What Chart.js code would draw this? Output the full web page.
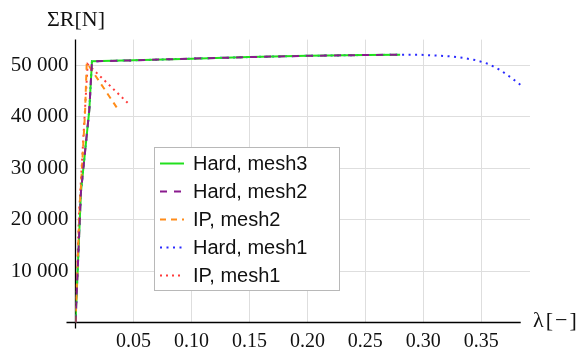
<!DOCTYPE html>
<html>
<head>
<meta charset="utf-8">
<script src="https://cdn.jsdelivr.net/npm/chart.js@4.4.1/dist/chart.umd.min.js"></script>
<style>
  html, body { margin: 0; padding: 0; background: #fff; }
  #wrap { width: 587px; height: 355px; position: relative; }
</style>
</head>
<body>
<div id="wrap"><canvas id="reactionChart"></canvas></div>
<script>
// Total reaction force vs. load factor, hard contact vs. IP, three meshes

const hardMesh3Lambda = [0, 0.0047, 0.0119, 0.0142, 0.05, 0.10, 0.15, 0.20, 0.25, 0.28];
const hardMesh3Force  = [0, 25400, 41300, 50780, 50970, 51300, 51600, 51850, 52000, 52060];

const hardMesh2Lambda = [0, 0.0047, 0.0119, 0.0142, 0.05, 0.10, 0.15, 0.20, 0.25, 0.28];
const hardMesh2Force  = [0, 25400, 41300, 50780, 50970, 51300, 51600, 51850, 52000, 52060];

const ipMesh2Lambda = [0, 0.0033, 0.0082, 0.0097, 0.0355];
const ipMesh2Force  = [0, 20900, 40700, 50500, 41830];

const hardMesh1Lambda = [0, 0.0047, 0.0119, 0.0142, 0.05, 0.10, 0.15, 0.20, 0.25, 0.28,
                         0.2964, 0.3128, 0.324, 0.335, 0.3458, 0.3565, 0.3662, 0.3754, 0.3843];
const hardMesh1Force  = [0, 25400, 41300, 50780, 50970, 51300, 51600, 51850, 52000, 52060,
                         52060, 51870, 51750, 51420, 50970, 50250, 49090, 47660, 46100];

const ipMesh1Lambda = [0, 0.003, 0.008, 0.0105, 0.0464];
const ipMesh1Force  = [0, 20900, 40700, 50200, 42400];

const xTicks = [0.05, 0.10, 0.15, 0.20, 0.25, 0.30, 0.35];
const yTicks = [10000, 20000, 30000, 40000, 50000];

const seriesNames = ['Hard, mesh3', 'Hard, mesh2', 'IP, mesh2', 'Hard, mesh1', 'IP, mesh1'];

const toPoints = (xs, ys) => xs.map((x, i) => ({ x: x, y: ys[i] }));

const styles = [
  { color: '#22e01e', dash: [] },
  { color: '#8a1a8e', dash: [7, 7] },
  { color: '#ff8c1a', dash: [6, 5] },
  { color: '#2a2aff', dash: [2, 4.5] },
  { color: '#ff3c3c', dash: [2, 4] }
];

const serif = '"Liberation Serif", "Times New Roman", serif';
const sans = '"Liberation Sans", Arial, sans-serif';

function fmtThousands(v) {
  return String(v).replace(/\B(?=(\d{3})+(?!\d))/g, ' ');
}

// axes crossing at the origin, axis titles and the framed legend
const decorPlugin = {
  id: 'decor',
  beforeDatasetsDraw(chart) {
    const { ctx, scales: { x, y } } = chart;
    const x0 = x.getPixelForValue(0);
    const y0 = y.getPixelForValue(0);
    ctx.save();
    ctx.strokeStyle = '#000';
    ctx.lineWidth = 1.3;
    ctx.beginPath();
    ctx.moveTo(x0 - 9, y0);
    ctx.lineTo(x.getPixelForValue(0.384), y0);
    ctx.moveTo(x0, y.getPixelForValue(55000));
    ctx.lineTo(x0, y0 + 6);
    ctx.stroke();
    ctx.restore();
  },
  afterDraw(chart) {
    const { ctx } = chart;
    ctx.save();
    ctx.fillStyle = '#111';
    ctx.font = '22px ' + serif;
    ctx.textBaseline = 'middle';
    ctx.textAlign = 'center';
    ctx.fillText('ΣR[N]', 76, 20);
    ctx.textAlign = 'left';
    ctx.letterSpacing = '2px';
    ctx.fillText('λ[−]', 533, 321);
    ctx.letterSpacing = '0px';

    // legend box
    const bx = 154.5, by = 147.5, bw = 185, bh = 143;
    ctx.fillStyle = '#fff';
    ctx.fillRect(bx, by, bw, bh);
    ctx.strokeStyle = '#b8b8b8';
    ctx.lineWidth = 1;
    ctx.strokeRect(bx, by, bw, bh);
    const rows = [163.5, 191.5, 219.5, 247.5, 275.5];
    ctx.font = '20px ' + sans;
    ctx.textAlign = 'left';
    rows.forEach((ry, i) => {
      ctx.strokeStyle = styles[i].color;
      ctx.lineWidth = 2;
      ctx.setLineDash(styles[i].dash);
      ctx.beginPath();
      ctx.moveTo(160, ry);
      ctx.lineTo(184, ry);
      ctx.stroke();
      ctx.setLineDash([]);
      ctx.fillStyle = '#111';
      ctx.fillText(seriesNames[i], 193, ry + 1);
    });
    ctx.restore();
  }
};

const pointSets = [
  toPoints(hardMesh3Lambda, hardMesh3Force),
  toPoints(hardMesh2Lambda, hardMesh2Force),
  toPoints(ipMesh2Lambda, ipMesh2Force),
  toPoints(hardMesh1Lambda, hardMesh1Force),
  toPoints(ipMesh1Lambda, ipMesh1Force)
];
// draw order: purple dashes over green, blue dots underneath
const drawOrder = [3, 1, 2, 4, 5];

new Chart(document.getElementById('reactionChart'), {
  type: 'line',
  data: {
    datasets: pointSets.map((pts, i) => ({
      label: seriesNames[i],
      data: pts,
      borderColor: styles[i].color,
      borderDash: styles[i].dash,
      borderWidth: 2,
      pointRadius: 0,
      fill: false,
      tension: 0,
      order: drawOrder[i]
    }))
  },
  options: {
    responsive: true,
    maintainAspectRatio: false,
    animation: false,
    layout: { padding: { top: 39.6, right: 57, left: 0, bottom: 0 } },
    plugins: { legend: { display: false }, tooltip: { enabled: false } },
    scales: {
      x: {
        type: 'linear',
        min: 0,
        max: 0.392,
        afterBuildTicks: (s) => { s.ticks = xTicks.map(v => ({ value: v })); },
        afterFit: (s) => { s.height = 32.5; },
        grid: { color: '#dedede', lineWidth: 1, drawTicks: false },
        border: { display: false },
        ticks: {
          padding: 7,
          color: '#111',
          font: { family: serif, size: 20 },
          callback: (v) => v.toFixed(2)
        }
      },
      y: {
        type: 'linear',
        min: 0,
        max: 55000,
        afterBuildTicks: (s) => { s.ticks = yTicks.map(v => ({ value: v })); },
        afterFit: (s) => { s.width = 75.5; },
        grid: { color: '#dedede', lineWidth: 1, drawTicks: false },
        border: { display: false },
        ticks: {
          padding: 7,
          color: '#111',
          font: { family: serif, size: 21 },
          callback: (v) => fmtThousands(v)
        }
      }
    }
  },
  plugins: [decorPlugin]
});
</script>
</body>
</html>
